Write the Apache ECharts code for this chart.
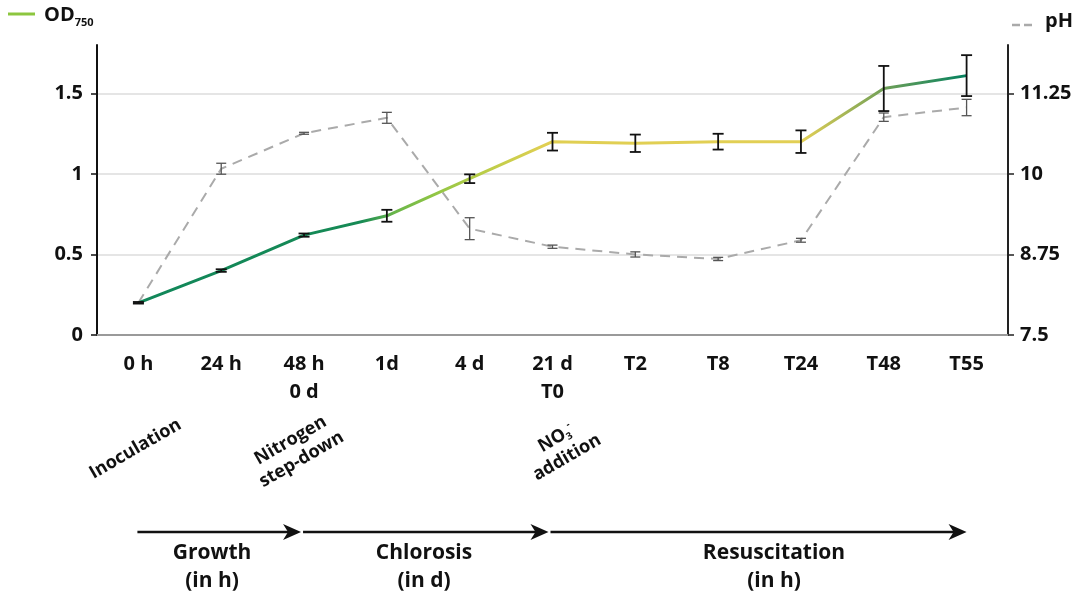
<!DOCTYPE html>
<html>
<head>
<meta charset="utf-8">
<title>OD750 and pH</title>
<script src="https://cdn.jsdelivr.net/npm/echarts@6/dist/echarts.min.js"></script>
<style>
  html, body { margin: 0; padding: 0; background: #fff; }
  #chart { width: 1083px; height: 599px; }
</style>
</head>
<body>
<div id="chart"></div>
<script>
// time points (x axis)
const categories = ['0 h', '24 h', '48 h\n0 d', '1d', '4 d', '21 d\nT0', 'T2', 'T8', 'T24', 'T48', 'T55']
// OD750 (left axis) and its error
const odValues = [0.20, 0.40, 0.62, 0.74, 0.97, 1.20, 1.19, 1.20, 1.20, 1.53, 1.61]
const odErrors = [0.005, 0.008, 0.01, 0.037, 0.027, 0.055, 0.054, 0.049, 0.07, 0.14, 0.127]
// pH (right axis) and its error
const phValues = [8.0, 10.08, 10.63, 10.87, 9.15, 8.87, 8.75, 8.68, 8.97, 10.88, 11.03]
const phErrors = [0.005, 0.085, 0.015, 0.085, 0.17, 0.025, 0.04, 0.025, 0.03, 0.065, 0.127]
// tick labels
const odTicks = [0, 0.5, 1, 1.5]
const phTicks = [7.5, 8.75, 10, 11.25]
// phases under the axis
const phases = ['Growth\n(in h)', 'Chlorosis\n(in d)', 'Resuscitation\n(in h)']

const FONT = "'Open Sans', 'Noto Sans', sans-serif"

const chart = echarts.init(document.getElementById('chart'), null, { renderer: 'canvas' })

// error bars with caps, drawn through the axis scales
const errorSeries = (values, errors, yAxisIndex, color, width, capW) => ({
  type: 'custom',
  yAxisIndex: yAxisIndex,
  z: 5,
  silent: true,
  data: values.map((v, i) => [i, v - errors[i], v + errors[i]]),
  renderItem: (params, api) => {
    const lo = api.coord([api.value(0), api.value(1)])
    const hi = api.coord([api.value(0), api.value(2)])
    const style = { stroke: color, lineWidth: width }
    return {
      type: 'group',
      children: [
        { type: 'line', shape: { x1: lo[0], y1: lo[1], x2: hi[0], y2: hi[1] }, style: style },
        { type: 'line', shape: { x1: hi[0] - capW / 2, y1: hi[1], x2: hi[0] + capW / 2, y2: hi[1] }, style: style },
        { type: 'line', shape: { x1: lo[0] - capW / 2, y1: lo[1], x2: lo[0] + capW / 2, y2: lo[1] }, style: style }
      ]
    }
  }
})

const labelFont = { color: '#111', fontSize: 20, fontWeight: 'bold', fontFamily: FONT }

chart.setOption({
  animation: false,
  textStyle: { fontFamily: FONT },
  grid: { left: 97, right: 75, top: 45, bottom: 264 },
  xAxis: {
    type: 'category',
    data: categories,
    boundaryGap: true,
    axisLine: { lineStyle: { color: '#9a9a9a', width: 2 } },
    axisTick: { alignWithLabel: true, length: 8, lineStyle: { color: '#9a9a9a', width: 1.5 } },
    axisLabel: Object.assign({ lineHeight: 28, margin: 15 }, labelFont)
  },
  yAxis: [
    {
      type: 'value',
      min: 0,
      max: 1.8,
      interval: 0.5,
      axisLine: { show: true, lineStyle: { color: '#111', width: 2 } },
      axisTick: { show: true, length: 6, customValues: odTicks, lineStyle: { color: '#111', width: 1.5 } },
      axisLabel: Object.assign({ margin: 14, customValues: odTicks }, labelFont),
      splitLine: { show: true, showMinLine: false, lineStyle: { color: '#dcdcdc', width: 1.5 } }
    },
    {
      type: 'value',
      min: 7.5,
      max: 12,
      interval: 1.25,
      position: 'right',
      axisLine: { show: true, lineStyle: { color: '#222', width: 2 } },
      axisTick: { show: true, length: 6, customValues: phTicks, lineStyle: { color: '#222', width: 1.5 } },
      axisLabel: Object.assign({ margin: 12, customValues: phTicks }, labelFont),
      splitLine: { show: false }
    }
  ],
  series: [
    {
      name: 'pH',
      type: 'line',
      yAxisIndex: 1,
      data: phValues,
      symbol: 'none',
      z: 2,
      lineStyle: { color: '#aaaaaa', width: 2, type: [10, 7] }
    },
    {
      name: 'OD750',
      type: 'line',
      yAxisIndex: 0,
      data: odValues,
      symbol: 'none',
      z: 3,
      lineStyle: {
        width: 3,
        color: {
          type: 'linear', x: 0, y: 0, x2: 1, y2: 0,
          colorStops: [
            { offset: 0, color: '#11875a' },
            { offset: 0.27, color: '#168a55' },
            { offset: 0.31, color: '#6ab64a' },
            { offset: 0.36, color: '#92c645' },
            { offset: 0.42, color: '#bccd48' },
            { offset: 0.49, color: '#e0cf52' },
            { offset: 0.8, color: '#e2cf55' },
            { offset: 0.9, color: '#6e9f58' },
            { offset: 1, color: '#00805f' }
          ]
        }
      }
    },
    errorSeries(phValues, phErrors, 1, '#555', 1.3, 10),
    errorSeries(odValues, odErrors, 0, '#111', 1.8, 11)
  ]
})

// annotations placed from category pixel positions
const px = i => chart.convertToPixel({ xAxisIndex: 0 }, i)
const arrowY = 532
const arrow = (x1, x2) => [
  { type: 'line', shape: { x1: x1, y1: arrowY, x2: x2 - 10, y2: arrowY }, style: { stroke: '#111', lineWidth: 2.5 } },
  { type: 'polygon', shape: { points: [[x2, arrowY], [x2 - 18, arrowY - 8], [x2 - 13, arrowY], [x2 - 18, arrowY + 8]] }, style: { fill: '#111' } }
]
const noteStyle = { fontSize: 18, fontWeight: 'bold', fill: '#111', fontFamily: FONT, align: 'center', verticalAlign: 'middle', lineHeight: 22 }
const phaseStyle = { fontSize: 21, fontWeight: 'bold', fill: '#111', fontFamily: FONT, align: 'center', verticalAlign: 'top', lineHeight: 28 }

chart.setOption({
  graphic: [
    // legends
    { type: 'line', shape: { x1: 8, y1: 14, x2: 35, y2: 14 }, style: { stroke: '#8cc63f', lineWidth: 3 } },
    {
      type: 'text', x: 44, y: 3,
      style: {
        text: '{b|OD}{s|750}',
        rich: {
          b: { fontSize: 20, fontWeight: 'bold', fill: '#111', fontFamily: FONT },
          s: { fontSize: 11, fontWeight: 'bold', fill: '#111', fontFamily: FONT, padding: [14, 0, 0, 0] }
        }
      }
    },
    { type: 'line', shape: { x1: 1012, y1: 25, x2: 1036, y2: 25 }, style: { stroke: '#aaaaaa', lineWidth: 2.5, lineDash: [8, 4] } },
    { type: 'text', x: 1045, y: 11, style: { text: 'pH', fontSize: 20, fontWeight: 'bold', fill: '#111', fontFamily: FONT } },
    // event notes
    { type: 'text', x: px(0) - 3, y: 449, rotation: Math.PI / 6, style: Object.assign({ text: 'Inoculation' }, noteStyle) },
    { type: 'text', x: px(2) - 8, y: 450, rotation: Math.PI / 6, style: Object.assign({ text: 'Nitrogen\nstep-down' }, noteStyle) },
    {
      type: 'text', x: px(5) + 9, y: 448, rotation: Math.PI / 6,
      style: Object.assign({
        text: '{n|NO}{s|3}{p|-}\n{n|addition}',
        rich: {
          n: { fontSize: 18, fontWeight: 'bold', fill: '#111', fontFamily: FONT },
          s: { fontSize: 10, fontWeight: 'bold', fill: '#111', fontFamily: FONT, padding: [10, 0, 0, 0] },
          p: { fontSize: 10, fontWeight: 'bold', fill: '#111', fontFamily: FONT, padding: [0, 0, 12, 0] }
        }
      }, noteStyle)
    },
    // phase arrows
    ...arrow(px(0) - 1, px(2) - 3),
    ...arrow(px(2) - 1, px(5) - 4),
    ...arrow(px(5) - 2, px(10)),
    { type: 'text', x: 212, y: 539, style: Object.assign({ text: phases[0] }, phaseStyle) },
    { type: 'text', x: 424, y: 539, style: Object.assign({ text: phases[1] }, phaseStyle) },
    { type: 'text', x: 774, y: 539, style: Object.assign({ text: phases[2] }, phaseStyle) }
  ]
})
</script>
</body>
</html>
